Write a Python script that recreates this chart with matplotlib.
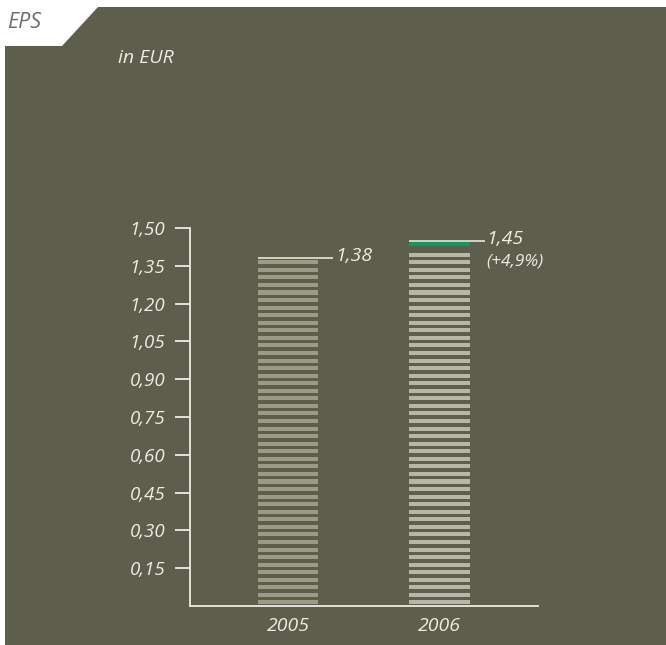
import matplotlib
matplotlib.use('Agg')
import matplotlib.pyplot as plt
from matplotlib.patches import Polygon
import numpy as np

"------------------DATA"
years = ['2005', '2006']
eps = [1.38, 1.45]
value_labels = ['1,38', '1,45']
change_label = '(+4,9%)'
yticks = [0.15, 0.30, 0.45, 0.60, 0.75, 0.90, 1.05, 1.20, 1.35, 1.50]
ytick_labels = ['0,15', '0,30', '0,45', '0,60', '0,75', '0,90', '1,05', '1,20', '1,35', '1,50']
"----------------------"

bg = '#5d5e4b'
fg = '#ecece4'
stripe_cols = ['#9b9b86', '#b7b7a7']
green = '#0c9a62'
period = 0.03     # stripe spacing in EUR
thick = 0.016     # stripe thickness in EUR

plt.rcParams['font.family'] = ['Open Sans', 'DejaVu Sans']
plt.rcParams['font.style'] = 'italic'

W, H = 666, 645
fig = plt.figure(figsize=(W/100, H/100), dpi=100)
fig.patch.set_facecolor('white')

# background axes: dark panel with the cut corner top left (pixel coords, y from top)
bgax = fig.add_axes([0, 0, 1, 1], zorder=-1)
bgax.set_xlim(0, W)
bgax.set_ylim(H, 0)
bgax.axis('off')
pts = [(5, 645), (5, 46), (62, 46), (98, 7), (666, 7), (666, 645)]
bgax.add_patch(Polygon(pts, closed=True, facecolor=bg, edgecolor='none'))

fig.text(7/W, 1 - 22/H, 'EPS', color='#6e6e6a', fontsize=15.5, va='center', ha='left')
fig.text(118/W, 1 - 58/H, 'in EUR', color=fg, fontsize=14, va='center', ha='left')

# axes: x from 190 to 538 px, y baseline 606 px, 1.50 at 228 px
left, right, base, top = 190, 538, 606, 228
ax = fig.add_axes([left/W, 1 - base/H, (right-left)/W, (base-top)/H], zorder=1)
ax.set_facecolor('none')
ax.set_ylim(0, 1.5)
ax.set_xlim(-0.647, 1.65)

x = np.arange(len(years))
bw = 0.40
for i, v in enumerate(eps):
    # 2006 gets a green top stripe right under the value line (the increase)
    top_lim = v - 0.004
    if i == 1:
        g_bot = v - 0.005 - thick
        ax.bar(x[i], thick, bottom=g_bot, width=bw, color=green, linewidth=0, zorder=2)
        top_lim = g_bot - 0.008
    k = 0
    while k*period + 0.006 + thick <= top_lim:
        ax.bar(x[i], thick, bottom=k*period + 0.006, width=bw, color=stripe_cols[i],
               linewidth=0, zorder=2)
        k += 1
    # leader line from the bar top out to the value
    ax.plot([x[i] - bw/2, x[i] + bw/2 + 0.1], [v, v], color='#d4d4c6', lw=1.4,
            solid_capstyle='butt', zorder=3, clip_on=False)
    ax.text(x[i] + bw/2 + 0.11, v + 0.008, value_labels[i], color=fg, fontsize=14,
            ha='left', va='center', clip_on=False)
ax.text(x[1] + bw/2 + 0.11, eps[1] - 0.084, change_label, color=fg, fontsize=12.5,
        ha='left', va='center', clip_on=False)

for s in ['top', 'right']:
    ax.spines[s].set_visible(False)
for s in ['left', 'bottom']:
    ax.spines[s].set_color(fg)
    ax.spines[s].set_linewidth(1.3)

ax.set_yticks(yticks)
ax.set_yticklabels(ytick_labels)
ax.tick_params(axis='y', length=10.8, width=1.3, color=fg, pad=7, labelsize=13.5,
               labelcolor=fg)
ax.set_xticks(x)
ax.set_xticklabels(years)
ax.tick_params(axis='x', length=0, pad=8, labelsize=14, labelcolor=fg)

fig.savefig('out.png', dpi=100, facecolor=fig.get_facecolor())
